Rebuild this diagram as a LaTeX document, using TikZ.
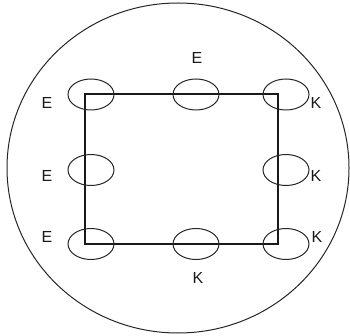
\documentclass[tikz,border=0pt]{standalone}
\usepackage{fontspec}
\setmainfont{Liberation Sans}
\usetikzlibrary{shapes.geometric}
\begin{document}
\begin{tikzpicture}[x=1pt,y=-1pt,
  lbl/.style={font=\fontsize{16}{18}\selectfont, text=black!90, inner sep=0pt},
  ring/.style={draw=black!85, line width=1pt, ellipse, minimum width=46pt, minimum height=31pt, inner sep=0pt}]
\useasboundingbox (0,0) rectangle (350,336);
\draw[black!85, line width=1pt] (178,168) ellipse [x radius=171, y radius=165];
\draw[black!90, line width=1.5pt] (85,94) rectangle (278,244);
\node[ring] (e1) at (91,94.5) {};
\node[ring] (e2) at (196,94.5) {};
\node[ring] (e3) at (286,94.5) {};
\node[ring] (e4) at (91,170) {};
\node[ring] (e5) at (286,170) {};
\node[ring] (e6) at (91,244) {};
\node[ring] (e7) at (196,244) {};
\node[ring] (e8) at (286,244) {};
\node[lbl] (l1) at (197,58) {E};
\node[lbl] (l2) at (47,103) {E};
\node[lbl] (l3) at (47,176) {E};
\node[lbl] (l4) at (47,237) {E};
\node[lbl] (l5) at (316,103) {K};
\node[lbl] (l6) at (316,176) {K};
\node[lbl] (l7) at (317,237) {K};
\node[lbl] (l8) at (198,278) {K};
\end{tikzpicture}
\end{document}
